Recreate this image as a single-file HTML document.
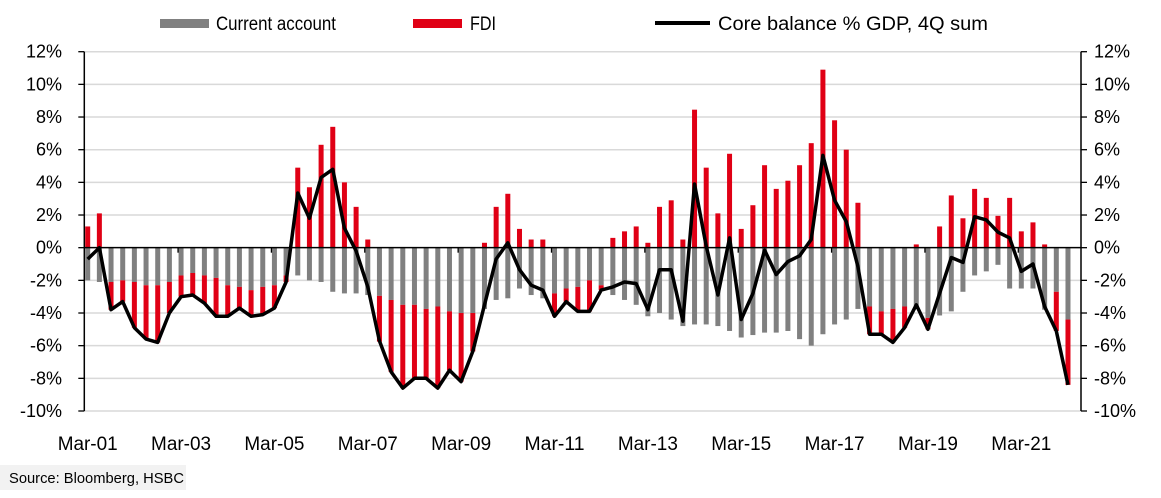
<!DOCTYPE html>
<html><head><meta charset="utf-8"><style>
html,body{margin:0;padding:0;background:#fff;}
svg{display:block;font-family:"Liberation Sans",Arial,sans-serif;}
</style></head><body>
<svg id="chart" width="1161" height="498" viewBox="0 0 1161 498" xmlns="http://www.w3.org/2000/svg">
<g id="legend">
  <rect x="160" y="19" width="49" height="9" fill="#808080"/>
  <text x="216" y="30" font-size="19" textLength="120" lengthAdjust="spacingAndGlyphs">Current account</text>
  <rect x="413" y="19" width="49" height="9" fill="#e00015"/>
  <text x="470" y="30" font-size="19" textLength="26" lengthAdjust="spacingAndGlyphs">FDI</text>
  <line x1="655" y1="23" x2="710" y2="23" stroke="#000" stroke-width="4"/>
  <text x="718" y="30" font-size="19" textLength="270" lengthAdjust="spacingAndGlyphs">Core balance % GDP, 4Q sum</text>
</g>
<g id="grid"></g>
<g id="bars"></g>
<g id="axes"></g>
<g id="line"></g>
<g id="labels"></g>
<rect x="0" y="465" width="186" height="25" fill="#f2f2f2"/>
<text x="9" y="483" font-size="15" textLength="175" lengthAdjust="spacingAndGlyphs">Source: Bloomberg, HSBC</text>
</svg>
<script>
const currentAccount = [-2.0,-2.1,-2.1,-2.0,-2.1,-2.3,-2.3,-2.1,-1.7,-1.55,-1.7,-1.85,-2.3,-2.4,-2.6,-2.4,-2.3,-1.7,-1.7,-2.0,-2.1,-2.7,-2.8,-2.8,-2.9,-2.95,-3.2,-3.5,-3.5,-3.75,-3.6,-3.9,-4.0,-4.0,-3.75,-3.2,-3.1,-2.5,-2.9,-3.1,-2.8,-2.5,-2.4,-2.0,-2.3,-2.9,-3.2,-3.5,-4.2,-4.0,-4.4,-4.8,-4.7,-4.7,-4.8,-5.1,-5.5,-5.35,-5.2,-5.2,-5.1,-5.6,-6.0,-5.3,-4.7,-4.4,-3.75,-3.6,-3.9,-3.75,-3.6,-3.6,-4.3,-4.15,-3.9,-2.7,-1.7,-1.45,-1.05,-2.5,-2.5,-2.5,-3.8,-2.7,-4.4];
const fdi = [1.3,2.1,-1.7,-1.3,-2.8,-3.3,-3.5,-1.9,-1.3,-1.35,-1.7,-2.3,-1.9,-1.3,-1.6,-1.7,-1.4,-0.4,4.9,3.7,6.3,7.4,4.0,2.5,0.5,-2.8,-4.4,-5.1,-4.5,-4.25,-5.0,-3.6,-4.2,-2.35,0.3,2.5,3.3,1.15,0.5,0.5,-1.4,-0.8,-1.5,-1.9,-0.3,0.6,1.0,1.3,0.3,2.5,2.9,0.5,8.45,4.9,2.1,5.75,1.15,2.6,5.05,3.6,4.1,5.05,6.4,10.9,7.8,6.0,2.75,-1.7,-1.4,-2.05,-1.3,0.2,-0.7,1.3,3.2,1.8,3.6,3.05,1.95,3.05,1.0,1.55,0.2,-2.4,-4.0];
const coreBalance = [-0.7,0.0,-3.8,-3.3,-4.9,-5.6,-5.8,-4.0,-3.0,-2.9,-3.4,-4.2,-4.2,-3.7,-4.2,-4.1,-3.7,-2.1,3.35,1.8,4.3,4.8,1.2,-0.2,-2.4,-5.7,-7.6,-8.6,-8.0,-8.0,-8.6,-7.5,-8.2,-6.35,-3.5,-0.7,0.3,-1.35,-2.3,-2.6,-4.2,-3.3,-3.9,-3.9,-2.6,-2.4,-2.1,-2.2,-3.8,-1.35,-1.35,-4.5,3.9,0.1,-2.9,0.6,-4.4,-2.8,-0.15,-1.65,-0.85,-0.5,0.5,5.65,2.9,1.6,-1.15,-5.3,-5.3,-5.8,-4.9,-3.5,-5.0,-2.8,-0.6,-0.9,1.9,1.7,0.95,0.6,-1.45,-1.0,-3.6,-5.1,-8.4];
const yTicks = [12,10,8,6,4,2,0,-2,-4,-6,-8,-10];
const xTickLabels = ["Mar-01","Mar-03","Mar-05","Mar-07","Mar-09","Mar-11","Mar-13","Mar-15","Mar-17","Mar-19","Mar-21"];

const NS="http://www.w3.org/2000/svg";
const plotL=84.3, plotR=1081, yTop=51.7, yBot=411;
const yMin=-10, yMax=12;
const step=11.67, x0=87.7;
function y(v){return yTop+(yMax-v)/(yMax-yMin)*(yBot-yTop);}
function x(i){return x0+i*step;}
function mk(tag,attrs,parent){const e=document.createElementNS(NS,tag);for(const k in attrs)e.setAttribute(k,attrs[k]);parent.appendChild(e);return e;}
const grid=document.getElementById('grid'),bars=document.getElementById('bars'),axes=document.getElementById('axes'),lineG=document.getElementById('line'),labels=document.getElementById('labels');

yTicks.forEach(t=>{
  if(t!==0){const g=mk('line',{x1:plotL,x2:plotR,y1:y(t),y2:y(t),stroke:'#d9d9d9','stroke-width':1.5},grid);
  
  }
  const tl=mk('line',{x1:plotL-6,x2:plotL,y1:y(t),y2:y(t),stroke:'#000','stroke-width':1.3},axes);
  
  
  const tr=mk('line',{x1:plotR,x2:plotR+6,y1:y(t),y2:y(t),stroke:'#000','stroke-width':1.3},axes);
  
  
  const a=mk('text',{x:62,y:y(t)+6,'font-size':18,'text-anchor':'end'},labels);a.textContent=t+'%';
  
  
  const b=mk('text',{x:1094,y:y(t)+6,'font-size':18},labels);b.textContent=t+'%';
  
  
});

const bw=5;
currentAccount.forEach((ca,i)=>{
  const f=fdi[i];
  const r=mk('rect',{x:x(i)-bw/2,width:bw,y:Math.min(y(0),y(ca)),height:Math.abs(y(ca)-y(0)),fill:'#808080'},bars);
  
  
  let base=0;
  if(f<0&&ca<0)base=ca; else if(f>0&&ca>0)base=ca;
  const top=base+f;
  const rr=mk('rect',{x:x(i)-bw/2,width:bw,y:Math.min(y(base),y(top)),height:Math.abs(y(top)-y(base)),fill:'#e00015'},bars);
  
  
});

const zl=mk('line',{x1:plotL,x2:plotR,y1:y(0),y2:y(0),stroke:'#000','stroke-width':1.5},axes);


const la=mk('line',{x1:plotL,x2:plotL,y1:yTop,y2:yBot,stroke:'#000','stroke-width':1.5},axes);


const ra=mk('line',{x1:plotR,x2:plotR,y1:yTop,y2:yBot,stroke:'#000','stroke-width':1.5},axes);



xTickLabels.forEach((lab,k)=>{
  const i=k*8;
  if(k>0){const t=mk('line',{x1:x(i)-3,x2:x(i)-3,y1:y(0),y2:y(0)+5,stroke:'#000','stroke-width':1.3},axes);
  
  }
  const tx=mk('text',{x:x(i),y:450,'font-size':19,'text-anchor':'middle',textLength:60,lengthAdjust:'spacingAndGlyphs'},labels);
  tx.textContent=lab;
  
  
});

const pts=coreBalance.map((v,i)=>x(i).toFixed(1)+','+y(v).toFixed(1)).join(' ');
const pl=mk('polyline',{points:pts,fill:'none',stroke:'#000','stroke-width':3.5,'stroke-linejoin':'round'},lineG);


</script>
</body></html>
